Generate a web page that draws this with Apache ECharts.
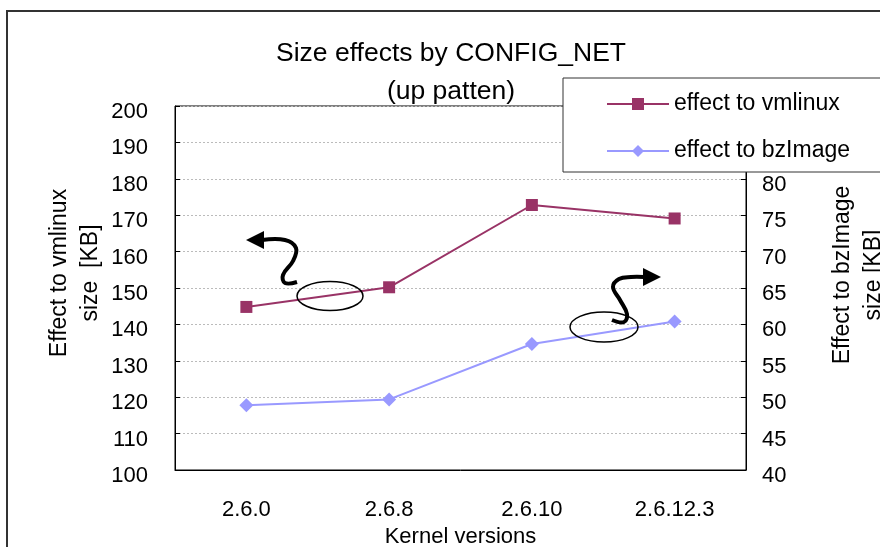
<!DOCTYPE html>
<html>
<head>
<meta charset="utf-8">
<script src="https://cdn.jsdelivr.net/npm/echarts@6/dist/echarts.min.js"></script>
<style>
  html, body { margin: 0; padding: 0; background: #fff; }
  #main { width: 880px; height: 547px; }
</style>
</head>
<body>
<div id="main"></div>
<script>
// 数据
const versions = ['2.6.0', '2.6.8', '2.6.10', '2.6.12.3'];
const vmlinux = [144.8, 150.2, 172.8, 169.1];
const bzImage = [48.9, 49.7, 57.3, 60.4];

const FONT = '"Liberation Sans", Arial, sans-serif';

let chart = echarts.init(document.getElementById('main'));

chart.setOption({
    backgroundColor: '#fff',
    animation: false,
    title: {
        text: 'Size effects by CONFIG_NET\n(up patten)',
        left: 446,
        top: 30,
        textAlign: 'center',
        textStyle: {
            fontFamily: FONT,
            fontSize: 26.5,
            fontWeight: 'normal',
            color: '#000',
            lineHeight: 38
        }
    },
    legend: {
        orient: 'vertical',
        left: 563,
        top: 78,
        padding: [14, 90, 9, 43],
        itemWidth: 62,
        itemHeight: 15,
        itemGap: 23,
        backgroundColor: '#fff',
        borderColor: '#333',
        borderWidth: 1,
        textStyle: { fontFamily: FONT, fontSize: 23, color: '#000', lineHeight: 24 },
        data: ['effect to vmlinux', 'effect to bzImage']
    },
    grid: {
        left: 175,
        right: 134,
        top: 106,
        bottom: 77,
        outerBoundsMode: 'none',
        show: true,
        borderColor: '#000',
        borderWidth: 1
    },
    xAxis: {
        type: 'category',
        data: versions,
        name: 'Kernel versions',
        nameLocation: 'middle',
        nameGap: 56,
        nameTextStyle: { fontFamily: FONT, fontSize: 22, color: '#000' },
        axisLine: { lineStyle: { color: '#000' } },
        axisTick: { inside: true, length: 5, lineStyle: { color: '#000' } },
        axisLabel: { margin: 29, fontFamily: FONT, fontSize: 22, color: '#000' }
    },
    yAxis: [
        {
            type: 'value',
            min: 100,
            max: 200,
            interval: 10,
            axisLine: { show: true, lineStyle: { color: '#000' } },
            axisTick: { show: true, inside: true, length: 5, lineStyle: { color: '#000' } },
            axisLabel: { margin: 27, verticalAlign: 'top', lineHeight: 12, fontFamily: FONT, fontSize: 22, color: '#000' },
            splitLine: { lineStyle: { color: '#bbb', type: [2, 2] } }
        },
        {
            type: 'value',
            min: 40,
            max: 90,
            interval: 5,
            position: 'right',
            axisLine: { show: true, lineStyle: { color: '#000' } },
            axisTick: { show: true, inside: true, length: 5, lineStyle: { color: '#000' } },
            axisLabel: { margin: 16, verticalAlign: 'top', lineHeight: 12, fontFamily: FONT, fontSize: 22, color: '#000' },
            splitLine: { show: false }
        }
    ],
    series: [
        {
            name: 'effect to vmlinux',
            type: 'line',
            yAxisIndex: 0,
            data: vmlinux,
            symbol: 'rect',
            symbolSize: 12,
            color: '#993366',
            lineStyle: { width: 2 }
        },
        {
            name: 'effect to bzImage',
            type: 'line',
            yAxisIndex: 1,
            data: bzImage,
            symbol: 'diamond',
            symbolSize: 14,
            color: '#9999ff',
            lineStyle: { width: 2 }
        }
    ],
    graphic: [
        // 外框
        {
            type: 'polyline',
            shape: { points: [[7, 560], [7, 11], [900, 11]] },
            style: { stroke: '#333', lineWidth: 2, fill: null },
            z: 0
        },
        // 轴标题
        {
            type: 'text',
            x: 75,
            y: 273,
            rotation: Math.PI / 2,
            style: {
                text: 'Effect to vmlinux\nsize  [KB]',
                font: '23px ' + FONT,
                fill: '#000',
                align: 'center',
                verticalAlign: 'middle',
                lineHeight: 31
            }
        },
        {
            type: 'text',
            x: 858,
            y: 275,
            rotation: Math.PI / 2,
            style: {
                text: 'Effect to bzImage\nsize [KB]',
                font: '23px ' + FONT,
                fill: '#000',
                align: 'center',
                verticalAlign: 'middle',
                lineHeight: 31
            }
        },
        // 左边的圈和箭头
        {
            type: 'ellipse',
            shape: { cx: 330, cy: 296, rx: 33, ry: 14.5 },
            style: { stroke: '#000', lineWidth: 1.5, fill: null },
            z: 10
        },
        {
            type: 'polyline',
            shape: {
                points: [[262, 240], [285, 240], [296, 248], [293, 261], [283, 275], [285, 283], [297, 282]],
                smooth: 0.4
            },
            style: { stroke: '#000', lineWidth: 4, fill: null },
            z: 10
        },
        {
            type: 'polygon',
            shape: { points: [[246, 240], [264, 231], [264, 249]] },
            style: { fill: '#000' },
            z: 10
        },
        // 右边的圈和箭头
        {
            type: 'ellipse',
            shape: { cx: 604, cy: 327, rx: 34, ry: 15 },
            style: { stroke: '#000', lineWidth: 1.5, fill: null },
            z: 10
        },
        {
            type: 'polyline',
            shape: {
                points: [[612, 320], [624, 322], [627, 314], [620, 300], [613, 287], [619, 279], [631, 277], [644, 277]],
                smooth: 0.4
            },
            style: { stroke: '#000', lineWidth: 4, fill: null },
            z: 10
        },
        {
            type: 'polygon',
            shape: { points: [[661, 277], [643, 268], [643, 286]] },
            style: { fill: '#000' },
            z: 10
        }
    ]
});
</script>
</body>
</html>
